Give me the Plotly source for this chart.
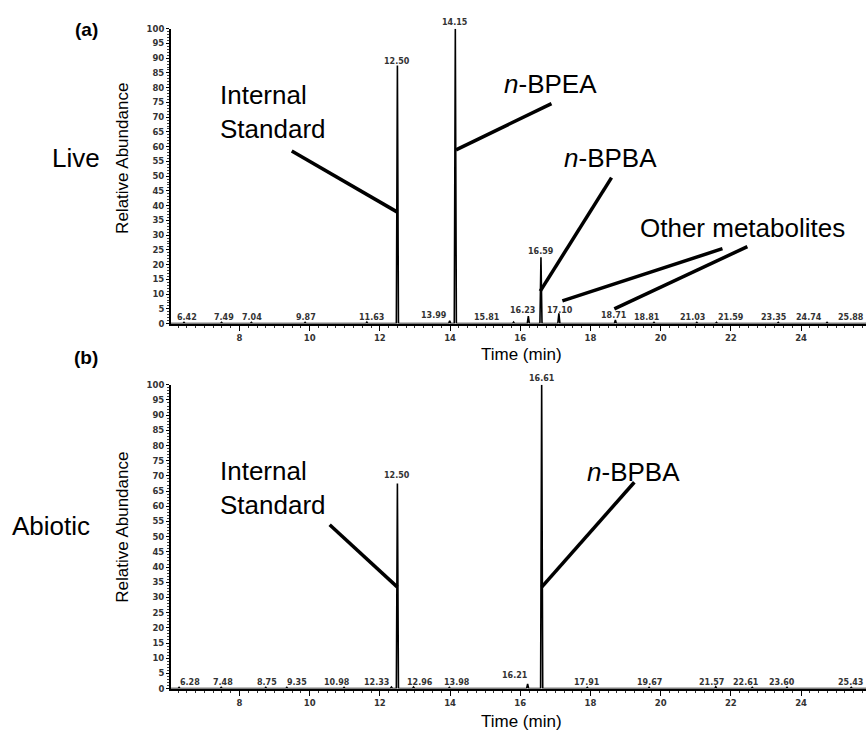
import plotly.graph_objects as go

W, H = 867, 735

# ---------------- Data ----------------
# Panel (a) Live: peak retention times (min) and relative abundances (%)
live_rt = [6.42, 7.49, 8.34, 9.87, 11.63, 12.50, 13.99, 14.15, 15.81, 16.23,
           16.59, 17.10, 18.71, 19.81, 21.03, 21.59, 23.35, 24.74, 25.88]
live_ab = [0.4, 0.4, 0.4, 0.4, 0.5, 87.5, 1.0, 100.0, 0.5, 2.5,
           22.5, 3.5, 1.2, 0.4, 0.4, 0.4, 0.4, 0.4, 0.4]
# peak-label texts and where the software printed them
live_lbl = ["6.42", "7.49", "7.04", "9.87", "11.63", "12.50", "13.99", "14.15", "15.81",
            "16.23", "16.59", "17.10", "18.71", "18.81", "21.03", "21.59", "23.35",
            "24.74", "25.88"]
live_lbl_x = [6.51, 7.56, 8.36, 9.89, 11.77, 12.50, 13.53, 14.15, 15.04,
              16.07, 16.59, 17.12, 18.68, 19.62, 20.90, 22.01, 23.23, 24.22, 25.42]
live_lbl_y = [2.0, 2.0, 2.0, 2.0, 2.0, 89.0, 2.7, 102.0, 2.0,
              4.3, 24.4, 4.3, 2.7, 2.0, 2.0, 2.0, 2.0, 2.0, 2.0]

# Panel (b) Abiotic
abio_rt = [6.28, 7.48, 8.75, 9.35, 10.98, 12.33, 12.50, 12.96, 13.98, 16.21,
           16.61, 17.91, 19.67, 21.57, 22.61, 23.60, 25.43]
abio_ab = [0.4, 0.4, 0.4, 0.4, 0.4, 0.5, 67.5, 0.5, 0.4, 1.5,
           100.0, 0.4, 0.4, 0.6, 0.4, 0.4, 0.4]
abio_lbl = ["6.28", "7.48", "8.75", "9.35", "10.98", "12.33", "12.50", "12.96", "13.98",
            "16.21", "16.61", "17.91", "19.67", "21.57", "22.61", "23.60", "25.43"]
abio_lbl_x = [6.59, 7.53, 8.78, 9.64, 10.77, 11.91, 12.50, 13.13, 14.19,
              15.84, 16.61, 17.89, 19.68, 21.44, 22.44, 23.46, 25.42]
abio_lbl_y = [1.9, 1.9, 1.9, 1.9, 1.9, 1.9, 70.1, 1.9, 1.9,
              4.2, 102.0, 1.9, 1.9, 1.9, 1.9, 1.9, 1.9]

x_ticks = [8, 10, 12, 14, 16, 18, 20, 22, 24]
x_range = [6.05, 25.85]
PEAK_HALF_WIDTH = 0.03


def trace_xy(rts, abs_):
    xs, ys = [x_range[0]], [0]
    for t, a in sorted(zip(rts, abs_)):
        xs += [t - PEAK_HALF_WIDTH, t, t + PEAK_HALF_WIDTH]
        ys += [0, a, 0]
    xs.append(x_range[1])
    ys.append(0)
    return xs, ys


FONT = "Arial, Liberation Sans, sans-serif"
SMALL = "DejaVu Sans, sans-serif"
fig = go.Figure()

for rts, abs_, xa, ya in [(live_rt, live_ab, "x", "y"), (abio_rt, abio_ab, "x2", "y2")]:
    xs, ys = trace_xy(rts, abs_)
    fig.add_trace(go.Scatter(x=xs, y=ys, mode="lines", xaxis=xa, yaxis=ya,
                             line=dict(color="black", width=1.6), showlegend=False,
                             hoverinfo="skip"))


def px(x):
    return x / W


def py(y):
    return 1 - y / H


tickfont = dict(family=SMALL, size=8.5, color="#333", weight="bold")
xcommon = dict(range=x_range, tickvals=x_ticks, ticks="outside", ticklen=5, tickwidth=1.2,
               tickcolor="black", showline=True, linewidth=2, linecolor="black",
               showgrid=False, zeroline=False, tickfont=tickfont,
               minor=dict(dtick=0.25, ticks="outside", ticklen=2.5, tickcolor="#333", showgrid=False),
               domain=[px(171), px(866)])
ycommon = dict(range=[0, 100], dtick=5, ticks="outside", ticklen=3, tickwidth=1,
               tickcolor="black", showline=True, linewidth=2, linecolor="black",
               showgrid=False, zeroline=False, tickfont=tickfont,
               minor=dict(dtick=1, ticks="outside", ticklen=2, tickcolor="#444", showgrid=False))

fig.update_layout(
    width=W, height=H, margin=dict(l=0, r=0, t=0, b=0),
    paper_bgcolor="white", plot_bgcolor="white",
    xaxis=dict(**xcommon, anchor="y"),
    yaxis=dict(**ycommon, anchor="x", domain=[py(323), py(24)]),
    xaxis2=dict(**xcommon, anchor="y2"),
    yaxis2=dict(**ycommon, anchor="x2", domain=[py(693), py(385)]),
)

ann = []
PX_PER_UNIT = 3.0  # approx. pixels per % abundance, for labels above the axis top

# peak labels (data coordinates)
for lbls, lx, ly, xa, ya in [(live_lbl, live_lbl_x, live_lbl_y, "x", "y"),
                             (abio_lbl, abio_lbl_x, abio_lbl_y, "x2", "y2")]:
    for s, x, y in zip(lbls, lx, ly):
        yy = min(y, 100.0)
        ann.append(dict(x=x, y=yy, xref=xa, yref=ya, text=s, showarrow=False,
                        xanchor="center", yanchor="middle", yshift=(y - yy) * PX_PER_UNIT,
                        font=dict(family=SMALL, size=8, color="#333", weight="bold")))


def text(x, y, s, size, xanchor="center", bold=False, angle=0, align="left"):
    ann.append(dict(x=px(x), y=py(y), xref="paper", yref="paper",
                    text=("<b>%s</b>" % s) if bold else s,
                    showarrow=False, xanchor=xanchor, yanchor="middle", textangle=angle,
                    align=align, font=dict(family=FONT, size=size, color="black")))


BIG = 26
text(86, 25, "(a)", 19, bold=True)
text(86, 357, "(b)", 19, bold=True)
text(50, 155, "Live", BIG, xanchor="left")
text(10, 528, "Abiotic", BIG, xanchor="left")
text(123, 156, "Relative Abundance", 17, angle=-90)
text(123, 530, "Relative Abundance", 17, angle=-90)
text(521, 354, "Time (min)", 17)
text(521, 726, "Time (min)", 17)

text(218, 108, "Internal<br>Standard", BIG, xanchor="left")
text(502, 80, "<i>n</i>-BPEA", BIG, xanchor="left")
text(562, 155, "<i>n</i>-BPBA", BIG, xanchor="left")
text(638, 226, "Other metabolites", BIG, xanchor="left")
text(218, 490, "Internal<br>Standard", BIG, xanchor="left")
text(585, 473, "<i>n</i>-BPBA", BIG, xanchor="left")

fig.update_layout(annotations=ann)

# leader lines (data coordinates of each panel)
lines_a = [((9.49, 58.5), (12.50, 37.8)),
           ((14.17, 58.9), (16.89, 74.6)),
           ((16.57, 11.0), (18.60, 49.5)),
           ((17.20, 7.7), (21.76, 25.4)),
           ((18.68, 5.0), (22.47, 26.1))]
lines_b = [((10.57, 53.9), (12.50, 33.4)),
           ((16.61, 33.4), (19.25, 67.9))]
shapes = []
for (x0, y0), (x1, y1) in lines_a:
    shapes.append(dict(type="line", xref="x", yref="y", x0=x0, y0=y0, x1=x1, y1=y1,
                       line=dict(color="black", width=3.5)))
for (x0, y0), (x1, y1) in lines_b:
    shapes.append(dict(type="line", xref="x2", yref="y2", x0=x0, y0=y0, x1=x1, y1=y1,
                       line=dict(color="black", width=3.5)))
fig.update_layout(shapes=shapes)

fig.write_html("out.html", config={"displayModeBar": False},
               post_script="document.body.style.margin='0px';document.body.style.overflow='hidden';")
